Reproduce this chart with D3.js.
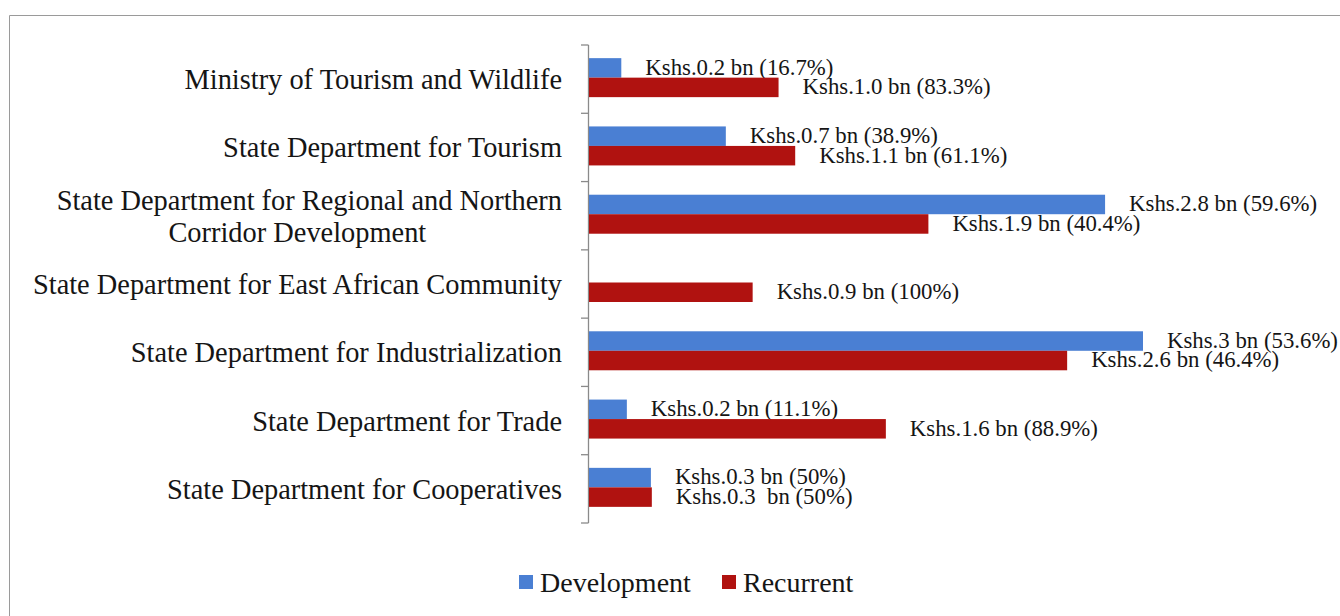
<!DOCTYPE html>
<html>
<head>
<meta charset="utf-8">
<script src="https://cdn.jsdelivr.net/npm/d3@7/dist/d3.min.js"></script>
<style>
  html, body { margin: 0; padding: 0; background: #fff; }
  svg text { fill: #151515; }
</style>
</head>
<body>
<svg id="chart" width="1340" height="616"></svg>
<script>
// ministries / state departments, top to bottom
const categories = [
  "Ministry of Tourism and Wildlife",
  "State Department for Tourism",
  "State Department for Regional and Northern|Corridor Development",
  "State Department for East African Community",
  "State Department for Industrialization",
  "State Department for Trade",
  "State Department for Cooperatives"
];
// Kshs bn
const development = [0.18, 0.745, 2.795, 0, 3.0, 0.21, 0.34];
const recurrent   = [1.03, 1.12, 1.84, 0.89, 2.59, 1.61, 0.345];
const devLabels = [
  "Kshs.0.2 bn (16.7%)", "Kshs.0.7 bn (38.9%)", "Kshs.2.8 bn (59.6%)", "",
  "Kshs.3 bn (53.6%)", "Kshs.0.2 bn (11.1%)", "Kshs.0.3 bn (50%)"
];
const recLabels = [
  "Kshs.1.0 bn (83.3%)", "Kshs.1.1 bn (61.1%)", "Kshs.1.9 bn (40.4%)", "Kshs.0.9 bn (100%)",
  "Kshs.2.6 bn (46.4%)", "Kshs.1.6 bn (88.9%)", "Kshs.0.3  bn (50%)"
];
const seriesNames = ["Development", "Recurrent"];
const colors = ["#4a7fd3", "#b01210"];

const FONT = "'Liberation Serif', 'Times New Roman', Times, 'DejaVu Serif', serif";

const svg = d3.select("#chart").attr("font-family", FONT);

// frame (only left and top edges show in the scan)
svg.append("path")
  .attr("d", "M9.5,616 V15.5 H1340")
  .attr("fill", "none").attr("stroke", "#9a9a9a").attr("stroke-width", 1);

const x = d3.scaleLinear().domain([0, 3]).range([588, 1143]);
const y = d3.scaleBand().domain(d3.range(categories.length)).range([45, 523]);
const barH = 19.5;

// axis: vertical line with outward ticks at band boundaries
const axisG = svg.append("g");
axisG.append("line")
  .attr("x1", 588.5).attr("x2", 588.5)
  .attr("y1", y.range()[0]).attr("y2", y.range()[1])
  .attr("stroke", "#8a8a8a").attr("stroke-width", 1.3);
axisG.selectAll("line.tick")
  .data(d3.range(categories.length + 1))
  .join("line").attr("class", "tick")
  .attr("x1", 581).attr("x2", 588.5)
  .attr("y1", i => y.range()[0] + i * y.step())
  .attr("y2", i => y.range()[0] + i * y.step())
  .attr("stroke", "#8a8a8a").attr("stroke-width", 1.3);

// category labels
const catG = svg.append("g").attr("font-family", FONT).attr("font-size", 28.4);
categories.forEach((c, i) => {
  const cy = y(i) + y.bandwidth() / 2;
  const lines = c.split("|");
  if (lines.length === 1) {
    catG.append("text")
      .attr("x", 562).attr("y", cy).attr("dy", "0.35em")
      .attr("text-anchor", "end")
      .text(c);
  } else {
    const t1 = catG.append("text")
      .attr("x", 562).attr("y", cy - 16).attr("dy", "0.35em")
      .attr("text-anchor", "end")
      .text(lines[0]);
    const w = t1.node().getComputedTextLength();
    catG.append("text")
      .attr("x", 562 - w / 2 - 12).attr("y", cy + 16).attr("dy", "0.35em")
      .attr("text-anchor", "middle")
      .text(lines[1]);
  }
});

// bars
const series = [development, recurrent];
const labels = [devLabels, recLabels];
series.forEach((vals, s) => {
  const g = svg.append("g");
  const top = i => y(i) + y.bandwidth() / 2 - barH + s * barH - 1.5;
  g.selectAll("rect")
    .data(vals.map((v, i) => ({ v, i })).filter(d => d.v > 0))
    .join("rect")
    .attr("x", x(0) + 1)
    .attr("y", d => top(d.i))
    .attr("width", d => x(d.v) - x(0) - 1)
    .attr("height", barH)
    .attr("fill", colors[s]);

  g.selectAll("text")
    .data(vals.map((v, i) => ({ v, i, t: labels[s][i] })).filter(d => d.t))
    .join("text")
    .attr("x", d => x(d.v) + 24)
    .attr("y", d => top(d.i) + barH / 2)
    .attr("dy", "0.3em")
    .attr("font-family", FONT)
    .attr("font-size", 22.8)
    .style("white-space", "pre")
    .text(d => d.t);
});

// legend
const legendX = [519, 722];
const lg = svg.append("g").attr("font-family", FONT);
seriesNames.forEach((n, i) => {
  lg.append("rect")
    .attr("x", legendX[i]).attr("y", 575)
    .attr("width", 14).attr("height", 14)
    .attr("fill", colors[i]);
  lg.append("text")
    .attr("x", legendX[i] + 21).attr("y", 582).attr("dy", "0.35em")
    .attr("font-size", 28)
    .text(n);
});
</script>
</body>
</html>
